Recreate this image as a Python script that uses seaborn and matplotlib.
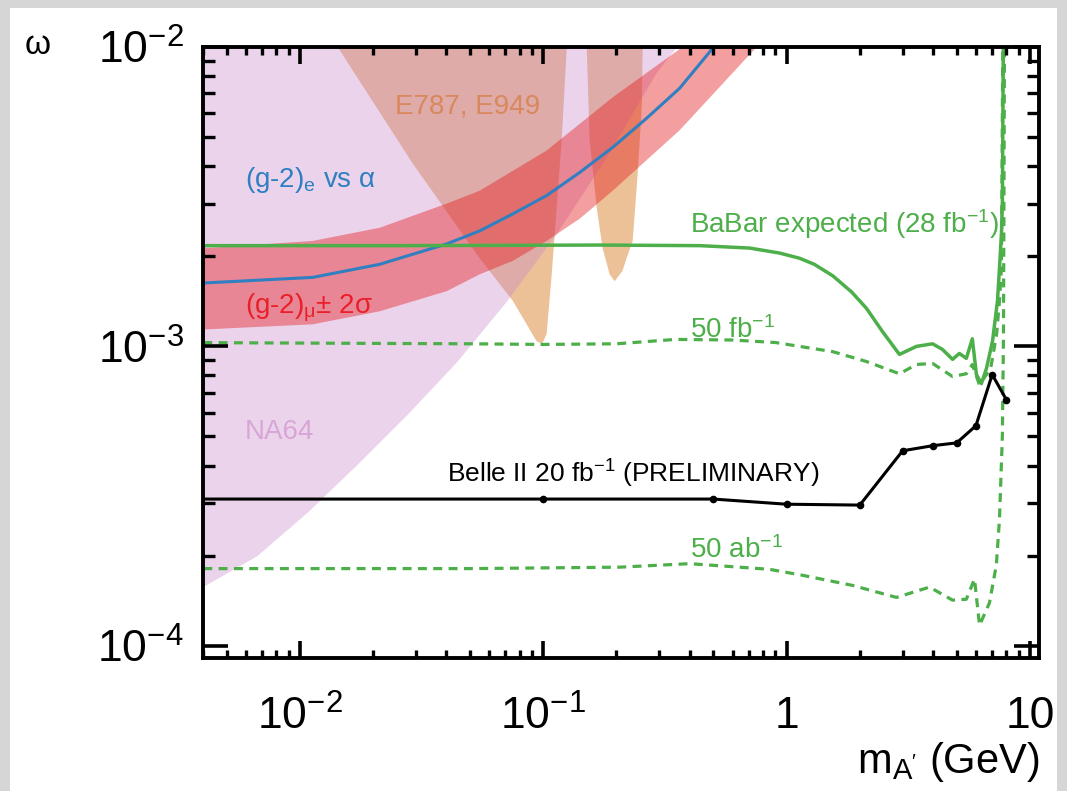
import numpy as np
import pandas as pd
import matplotlib
matplotlib.use("Agg")
import matplotlib.pyplot as plt
import seaborn as sns
from matplotlib.patches import Rectangle
from matplotlib.ticker import LogLocator, NullFormatter, FixedLocator

# ---------------- data ----------------
na64_mass = [0.0035, 0.00407, 0.00666, 0.0107, 0.0171, 0.0275, 0.0442, 0.0708, 0.1136, 0.181, 0.292, 0.40]
na64_eps = [1.50e-4, 1.59e-4, 2.00e-4, 2.79e-4, 4.02e-4, 5.91e-4, 8.91e-4, 1.42e-3, 2.39e-3, 4.27e-3, 8.24e-3, 1.14e-2]

e787_mass = [0.0143, 0.0291, 0.0548, 0.075, 0.094, 0.099, 0.1033, 0.1084, 0.1136, 0.1191, 0.125,
             0.151, 0.1552, 0.166, 0.1754, 0.1875, 0.1966, 0.212, 0.22, 0.2333, 0.2445, 0.2541, 0.2564]
e787_eps = [1.0e-2, 4.08e-3, 1.97e-3, 1.42e-3, 1.04e-3, 1.02e-3, 1.10e-3, 1.74e-3, 2.90e-3, 4.88e-3, 1.0e-2,
            1.0e-2, 4.88e-3, 2.90e-3, 2.13e-3, 1.74e-3, 1.65e-3, 1.79e-3, 1.97e-3, 2.25e-3, 3.78e-3, 6.29e-3, 1.0e-2]

gm2mu_up_mass = [0.003, 0.00415, 0.0113, 0.0213, 0.0402, 0.0548, 0.1033, 0.193, 0.374, 0.45]
gm2mu_up_eps = [2.12e-3, 2.13e-3, 2.25e-3, 2.49e-3, 3.00e-3, 3.31e-3, 4.51e-3, 6.79e-3, 1.0e-2, 1.2e-2]
gm2mu_lo_mass = [0.003, 0.00415, 0.0113, 0.0213, 0.0402, 0.0548, 0.075, 0.1033, 0.1413, 0.193, 0.3636, 0.7535, 0.9]
gm2mu_lo_eps = [1.13e-3, 1.14e-3, 1.185e-3, 1.31e-3, 1.53e-3, 1.74e-3, 1.93e-3, 2.25e-3, 2.67e-3, 3.31e-3, 5.27e-3, 1.0e-2, 1.2e-2]

gm2e_mass = [0.003, 0.00415, 0.0113, 0.0213, 0.0402, 0.0548, 0.075, 0.1033, 0.1413, 0.193, 0.266, 0.3636, 0.4828, 0.55]
gm2e_eps = [1.62e-3, 1.63e-3, 1.70e-3, 1.88e-3, 2.20e-3, 2.43e-3, 2.77e-3, 3.19e-3, 3.81e-3, 4.62e-3, 5.78e-3, 7.28e-3, 9.62e-3, 1.12e-2]

babar_mass = [0.003, 0.0258, 0.171, 0.44, 0.705, 0.935, 1.13, 1.30, 1.55, 1.85, 2.13, 2.48, 2.91, 3.42, 3.98,
              4.37, 4.81, 5.13, 5.48, 5.80, 6.03, 6.32, 6.63, 7.02, 7.36, 7.50, 7.64, 7.71, 7.79]
babar_eps = [2.17e-3, 2.17e-3, 2.18e-3, 2.17e-3, 2.13e-3, 2.05e-3, 1.97e-3, 1.88e-3, 1.72e-3, 1.52e-3, 1.34e-3,
             1.12e-3, 9.40e-4, 1.00e-3, 1.02e-3, 9.77e-4, 9.05e-4, 9.47e-4, 9.12e-4, 1.06e-3, 8.05e-4, 7.51e-4,
             8.44e-4, 1.04e-3, 1.42e-3, 1.83e-3, 2.38e-3, 3.07e-3, 1.3e-2]

fb50_mass = [0.003, 0.05, 0.1, 0.2, 0.35, 0.6, 0.9, 1.13, 1.55, 2.13, 2.91, 3.42, 3.98, 4.81, 5.48, 5.8, 6.2,
             6.9, 7.3, 7.5, 7.64, 7.75]
fb50_eps = [1.03e-3, 1.02e-3, 1.015e-3, 1.02e-3, 1.055e-3, 1.05e-3, 1.03e-3, 1.0e-3, 9.6e-4, 8.9e-4, 8.1e-4,
            8.7e-4, 8.77e-4, 7.93e-4, 8.1e-4, 8.7e-4, 7.45e-4, 8.44e-4, 1.1e-3, 1.42e-3, 1.83e-3, 1.3e-2]

ab50_mass = [0.003, 0.05, 0.206, 0.4, 0.851, 1.16, 1.87, 2.83, 3.87, 4.81, 5.48, 5.92, 6.21, 6.82, 7.28, 7.50,
             7.71, 7.79, 7.87]
ab50_eps = [1.81e-4, 1.81e-4, 1.83e-4, 1.88e-4, 1.80e-4, 1.72e-4, 1.59e-4, 1.45e-4, 1.57e-4, 1.42e-4, 1.43e-4,
            1.67e-4, 1.17e-4, 1.39e-4, 1.86e-4, 2.65e-4, 5.07e-4, 1.12e-3, 1.3e-2]

belle_mass = [0.002, 0.1, 0.5, 1.0, 2.0, 3.0, 4.0, 5.0, 6.0, 7.0, 8.0]
belle_eps = [3.09e-4, 3.09e-4, 3.09e-4, 2.97e-4, 2.95e-4, 4.48e-4, 4.66e-4, 4.76e-4, 5.43e-4, 8.05e-4, 6.64e-4]

xtick_vals = [0.01, 0.1, 1, 10]
xtick_labels = [r"$10^{-2}$", r"$10^{-1}$", "1", "10"]
ytick_vals = [1e-4, 1e-3, 1e-2]
ytick_labels = [r"$10^{-4}$", r"$10^{-3}$", r"$10^{-2}$"]

# ---------------- style ----------------
sns.set_theme(style="ticks")
plt.rcParams["font.family"] = ["Liberation Sans", "DejaVu Sans"]
plt.rcParams["mathtext.fontset"] = "custom"
plt.rcParams["mathtext.rm"] = "Liberation Sans"
plt.rcParams["mathtext.it"] = "Liberation Sans:italic"
plt.rcParams["mathtext.bf"] = "Liberation Sans:bold"
plt.rcParams["text.color"] = "black"
plt.rcParams["xtick.labelcolor"] = "black"
plt.rcParams["ytick.labelcolor"] = "black"

GREEN = "#4daf4a"
BLUE = "#2f7fc1"
RED = "#e41a1c"

W, H = 1067, 791
fig = plt.figure(figsize=(W / 100, H / 100), dpi=100)
fig.patch.set_facecolor("#d6d6d6")
fig.add_artist(Rectangle((10 / W, 0), (1057 - 10) / W, (H - 8) / H, transform=fig.transFigure,
                         facecolor="white", edgecolor="none", zorder=-10))

ax = fig.add_axes([203 / W, (H - 658) / H, (1039 - 203) / W, (658 - 47) / H])
ax.set_facecolor("white")
ax.set_xscale("log")
ax.set_yscale("log")
ax.set_xlim(0.0040, 10.9)
ax.set_ylim(9.1e-5, 1.0e-2)

# E787, E949
ax.fill(e787_mass, e787_eps, color="#ecc198", linewidth=0, zorder=1)
# NA64 region (translucent, over E787)
ax.fill_between(na64_mass, na64_eps, 1.5e-2, color="#c882c8", alpha=0.35, linewidth=0, zorder=2)
# (g-2)_mu band
ax.fill(gm2mu_up_mass + gm2mu_lo_mass[::-1], gm2mu_up_eps + gm2mu_lo_eps[::-1],
        color=RED, alpha=0.415, linewidth=0, zorder=3)
# (g-2)_e line
sns.lineplot(x=gm2e_mass, y=gm2e_eps, ax=ax, color=BLUE, linewidth=2.2, sort=False, zorder=5)
# BaBar
sns.lineplot(x=babar_mass, y=babar_eps, ax=ax, color=GREEN, linewidth=2.5, sort=False, zorder=6)
sns.lineplot(x=fb50_mass, y=fb50_eps, ax=ax, color=GREEN, linewidth=2.3, sort=False, zorder=6,
             linestyle=(0, (2.8, 2.0)))
sns.lineplot(x=ab50_mass, y=ab50_eps, ax=ax, color=GREEN, linewidth=2.3, sort=False, zorder=6,
             linestyle=(0, (2.8, 2.0)))
# Belle II
sns.lineplot(x=belle_mass, y=belle_eps, ax=ax, color="black", linewidth=2.2, sort=False, zorder=7,
             marker="o", markersize=5.5, markeredgewidth=0)

# ---------------- axes cosmetics ----------------
for s in ax.spines.values():
    s.set_linewidth(2.8)
    s.set_color("black")
    s.set_zorder(20)

ax.xaxis.set_major_locator(FixedLocator(xtick_vals))
ax.set_xticklabels(xtick_labels)
ax.yaxis.set_major_locator(FixedLocator(ytick_vals))
ax.set_yticklabels(ytick_labels)
ax.xaxis.set_minor_locator(LogLocator(base=10, subs=np.arange(2, 10), numticks=20))
ax.yaxis.set_minor_locator(LogLocator(base=10, subs=np.arange(2, 10), numticks=20))
ax.xaxis.set_minor_formatter(NullFormatter())
ax.yaxis.set_minor_formatter(NullFormatter())

ax.tick_params(axis="both", which="both", direction="in", top=True, right=True, color="black",
               labelcolor="black")
ax.tick_params(axis="x", which="major", length=12, width=2.6, labelsize=32, pad=27)
ax.tick_params(axis="x", which="minor", length=5.5, width=2.4)
ax.tick_params(axis="y", which="major", length=18, width=2.6, labelsize=32, pad=14)
ax.tick_params(axis="y", which="minor", length=8.5, width=2.4)
ax.xaxis.set_zorder(15)
ax.yaxis.set_zorder(15)
ax.set_xlabel("")
ax.set_ylabel("")

# ---------------- annotations ----------------
ax.text(0.0245, 6.01e-3, "E787, E949", color="#d9875d", fontsize=20, ha="left", va="baseline", zorder=8)
ax.text(0.00594, 3.41e-3, r"(g-2)$_{\mathrm{e}}$ vs α", color=BLUE, fontsize=20, ha="left", va="baseline", zorder=8)
ax.text(0.00594, 1.29e-3, r"(g-2)$_{\mathrm{μ}}$± 2σ", color="#e8202a", fontsize=20, ha="left", va="baseline", zorder=8)
ax.text(0.00594, 4.91e-4, "NA64", color="#d8a6d6", fontsize=20, ha="left", va="baseline", zorder=8)
ax.text(0.400, 2.39e-3, r"BaBar expected (28 fb$^{-1}$)", color=GREEN, fontsize=20, ha="left", va="baseline", zorder=8)
ax.text(0.400, 1.07e-3, r"50 fb$^{-1}$", color=GREEN, fontsize=20, ha="left", va="baseline", zorder=8)
ax.text(0.400, 1.96e-4, r"50 ab$^{-1}$", color=GREEN, fontsize=20, ha="left", va="baseline", zorder=8)
ax.text(0.0402, 3.50e-4, r"Belle II 20 fb$^{-1}$ (PRELIMINARY)", color="black", fontsize=19, ha="left",
        va="baseline", zorder=8)

fig.text(38 / W, 1 - 45 / H, "ω", fontsize=24, ha="center", va="center", color="black")
fig.text(1040 / W, 1 - 762 / H, r"m$_{\mathrm{A'}}$ (GeV)", fontsize=30, ha="right", va="center", color="black")

fig.savefig("out.png", dpi=100, facecolor=fig.get_facecolor())
